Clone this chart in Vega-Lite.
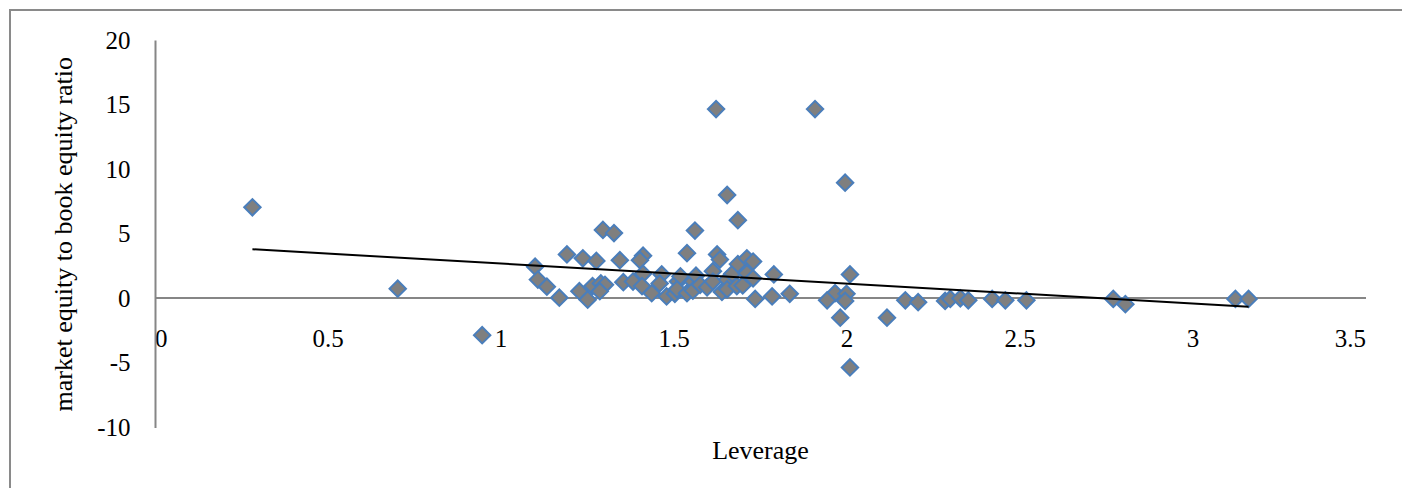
{
  "$schema": "https://vega.github.io/schema/vega-lite/v6.json",
  "width": 1392,
  "height": 478,
  "autosize": "none",
  "padding": {"left": 10, "top": 10, "right": 0, "bottom": 0},
  "background": "white",
  "config": {
    "view": {"stroke": "#8a8a8a", "strokeWidth": 2, "strokeDash": [1392, 1870, 478, 10]},
    "font": "Liberation Serif"
  },
  "datasets": {
    "points": [
      {"leverage": 0.283, "mb": 7.05},
      {"leverage": 0.703, "mb": 0.75},
      {"leverage": 0.947, "mb": -2.85},
      {"leverage": 1.100, "mb": 2.45},
      {"leverage": 1.108, "mb": 1.45},
      {"leverage": 1.134, "mb": 0.9},
      {"leverage": 1.170, "mb": 0.05},
      {"leverage": 1.192, "mb": 3.4},
      {"leverage": 1.228, "mb": 0.55},
      {"leverage": 1.238, "mb": 3.1},
      {"leverage": 1.252, "mb": -0.1},
      {"leverage": 1.277, "mb": 2.9},
      {"leverage": 1.266, "mb": 0.95},
      {"leverage": 1.290, "mb": 1.15},
      {"leverage": 1.296, "mb": 5.3},
      {"leverage": 1.328, "mb": 5.05},
      {"leverage": 1.345, "mb": 2.95},
      {"leverage": 1.355, "mb": 1.25},
      {"leverage": 1.302, "mb": 1.05},
      {"leverage": 1.287, "mb": 0.55},
      {"leverage": 1.412, "mb": 3.3},
      {"leverage": 1.403, "mb": 2.95},
      {"leverage": 1.383, "mb": 1.3},
      {"leverage": 1.412, "mb": 1.9},
      {"leverage": 1.409, "mb": 0.95},
      {"leverage": 1.437, "mb": 0.4},
      {"leverage": 1.466, "mb": 1.85},
      {"leverage": 1.460, "mb": 1.15},
      {"leverage": 1.480, "mb": 0.15},
      {"leverage": 1.504, "mb": 0.35},
      {"leverage": 1.513, "mb": 1.3},
      {"leverage": 1.520, "mb": 1.7},
      {"leverage": 1.510, "mb": 0.7},
      {"leverage": 1.539, "mb": 3.5},
      {"leverage": 1.562, "mb": 5.25},
      {"leverage": 1.539, "mb": 0.4},
      {"leverage": 1.556, "mb": 1.3},
      {"leverage": 1.565, "mb": 1.75},
      {"leverage": 1.556, "mb": 0.6},
      {"leverage": 1.577, "mb": 1.05},
      {"leverage": 1.597, "mb": 0.85},
      {"leverage": 1.614, "mb": 2.1},
      {"leverage": 1.626, "mb": 3.4},
      {"leverage": 1.634, "mb": 3.0},
      {"leverage": 1.614, "mb": 1.3},
      {"leverage": 1.640, "mb": 0.5},
      {"leverage": 1.655, "mb": 1.45},
      {"leverage": 1.670, "mb": 1.9},
      {"leverage": 1.655, "mb": 0.7},
      {"leverage": 1.686, "mb": 6.05},
      {"leverage": 1.686, "mb": 2.65},
      {"leverage": 1.683, "mb": 0.95},
      {"leverage": 1.700, "mb": 1.0},
      {"leverage": 1.712, "mb": 3.1},
      {"leverage": 1.730, "mb": 2.85},
      {"leverage": 1.712, "mb": 1.95},
      {"leverage": 1.730, "mb": 1.55},
      {"leverage": 1.736, "mb": -0.05},
      {"leverage": 1.790, "mb": 1.85},
      {"leverage": 1.785, "mb": 0.15},
      {"leverage": 1.836, "mb": 0.35},
      {"leverage": 1.623, "mb": 14.65},
      {"leverage": 1.909, "mb": 14.65},
      {"leverage": 1.655, "mb": 8.0},
      {"leverage": 1.996, "mb": 8.95},
      {"leverage": 2.010, "mb": 1.85},
      {"leverage": 1.967, "mb": 0.4},
      {"leverage": 1.944, "mb": -0.15},
      {"leverage": 2.000, "mb": 0.35},
      {"leverage": 1.996, "mb": -0.2},
      {"leverage": 1.982, "mb": -1.5},
      {"leverage": 2.010, "mb": -5.35},
      {"leverage": 2.117, "mb": -1.5},
      {"leverage": 2.170, "mb": -0.15},
      {"leverage": 2.207, "mb": -0.3},
      {"leverage": 2.285, "mb": -0.2},
      {"leverage": 2.300, "mb": -0.05},
      {"leverage": 2.329, "mb": 0.0},
      {"leverage": 2.352, "mb": -0.15},
      {"leverage": 2.421, "mb": -0.05},
      {"leverage": 2.459, "mb": -0.15},
      {"leverage": 2.520, "mb": -0.15},
      {"leverage": 2.771, "mb": -0.05},
      {"leverage": 2.806, "mb": -0.45},
      {"leverage": 3.124, "mb": -0.05},
      {"leverage": 3.162, "mb": -0.05}
    ],
    "trend": [
      {"leverage": 0.283, "mb": 3.8},
      {"leverage": 3.162, "mb": -0.65}
    ]
  },
  "layer": [
    {
      "data": {"name": "points"},
      "mark": {"type": "point", "shape": "diamond", "filled": true, "fill": "#7f7f7f", "stroke": "#4a7ebb", "strokeWidth": 2, "size": 270, "opacity": 1},
      "encoding": {
        "x": {
          "field": "leverage", "type": "quantitative",
          "scale": {"domain": [0, 3.5], "range": [144.5, 1355.5], "nice": false, "zero": false},
          "axis": {
            "orient": "bottom", "offset": -190.5,
            "values": [0, 0.5, 1, 1.5, 2, 2.5, 3, 3.5], "labelExpr": "datum.value + ''",
            "ticks": false, "grid": false,
            "domainColor": "#868686", "domainWidth": 2,
            "labelFontSize": 25, "labelColor": "black", "labelPadding": 29, "labelFont": "Liberation Serif",
            "title": "Leverage", "titleFontSize": 26, "titleFontWeight": "normal", "titleColor": "black", "titleFont": "Liberation Serif", "titlePadding": 86
          }
        },
        "y": {
          "field": "mb", "type": "quantitative",
          "scale": {"domain": [-10, 20], "range": [417.5, 30], "nice": false, "zero": false},
          "axis": {
            "orient": "left", "offset": -145,
            "values": [-10, -5, 0, 5, 10, 15, 20], "labelExpr": "datum.value + ''",
            "ticks": false, "grid": false,
            "domainColor": "#868686", "domainWidth": 2,
            "labelFontSize": 25, "labelColor": "black", "labelPadding": 25, "labelFont": "Liberation Serif",
            "title": "market equity to book equity ratio", "titleFontSize": 26, "titleFontWeight": "normal", "titleColor": "black", "titleFont": "Liberation Serif", "titlePadding": 20
          }
        }
      }
    },
    {
      "data": {"name": "trend"},
      "mark": {"type": "line", "color": "black", "strokeWidth": 2},
      "encoding": {
        "x": {"field": "leverage", "type": "quantitative"},
        "y": {"field": "mb", "type": "quantitative"}
      }
    }
  ]
}
